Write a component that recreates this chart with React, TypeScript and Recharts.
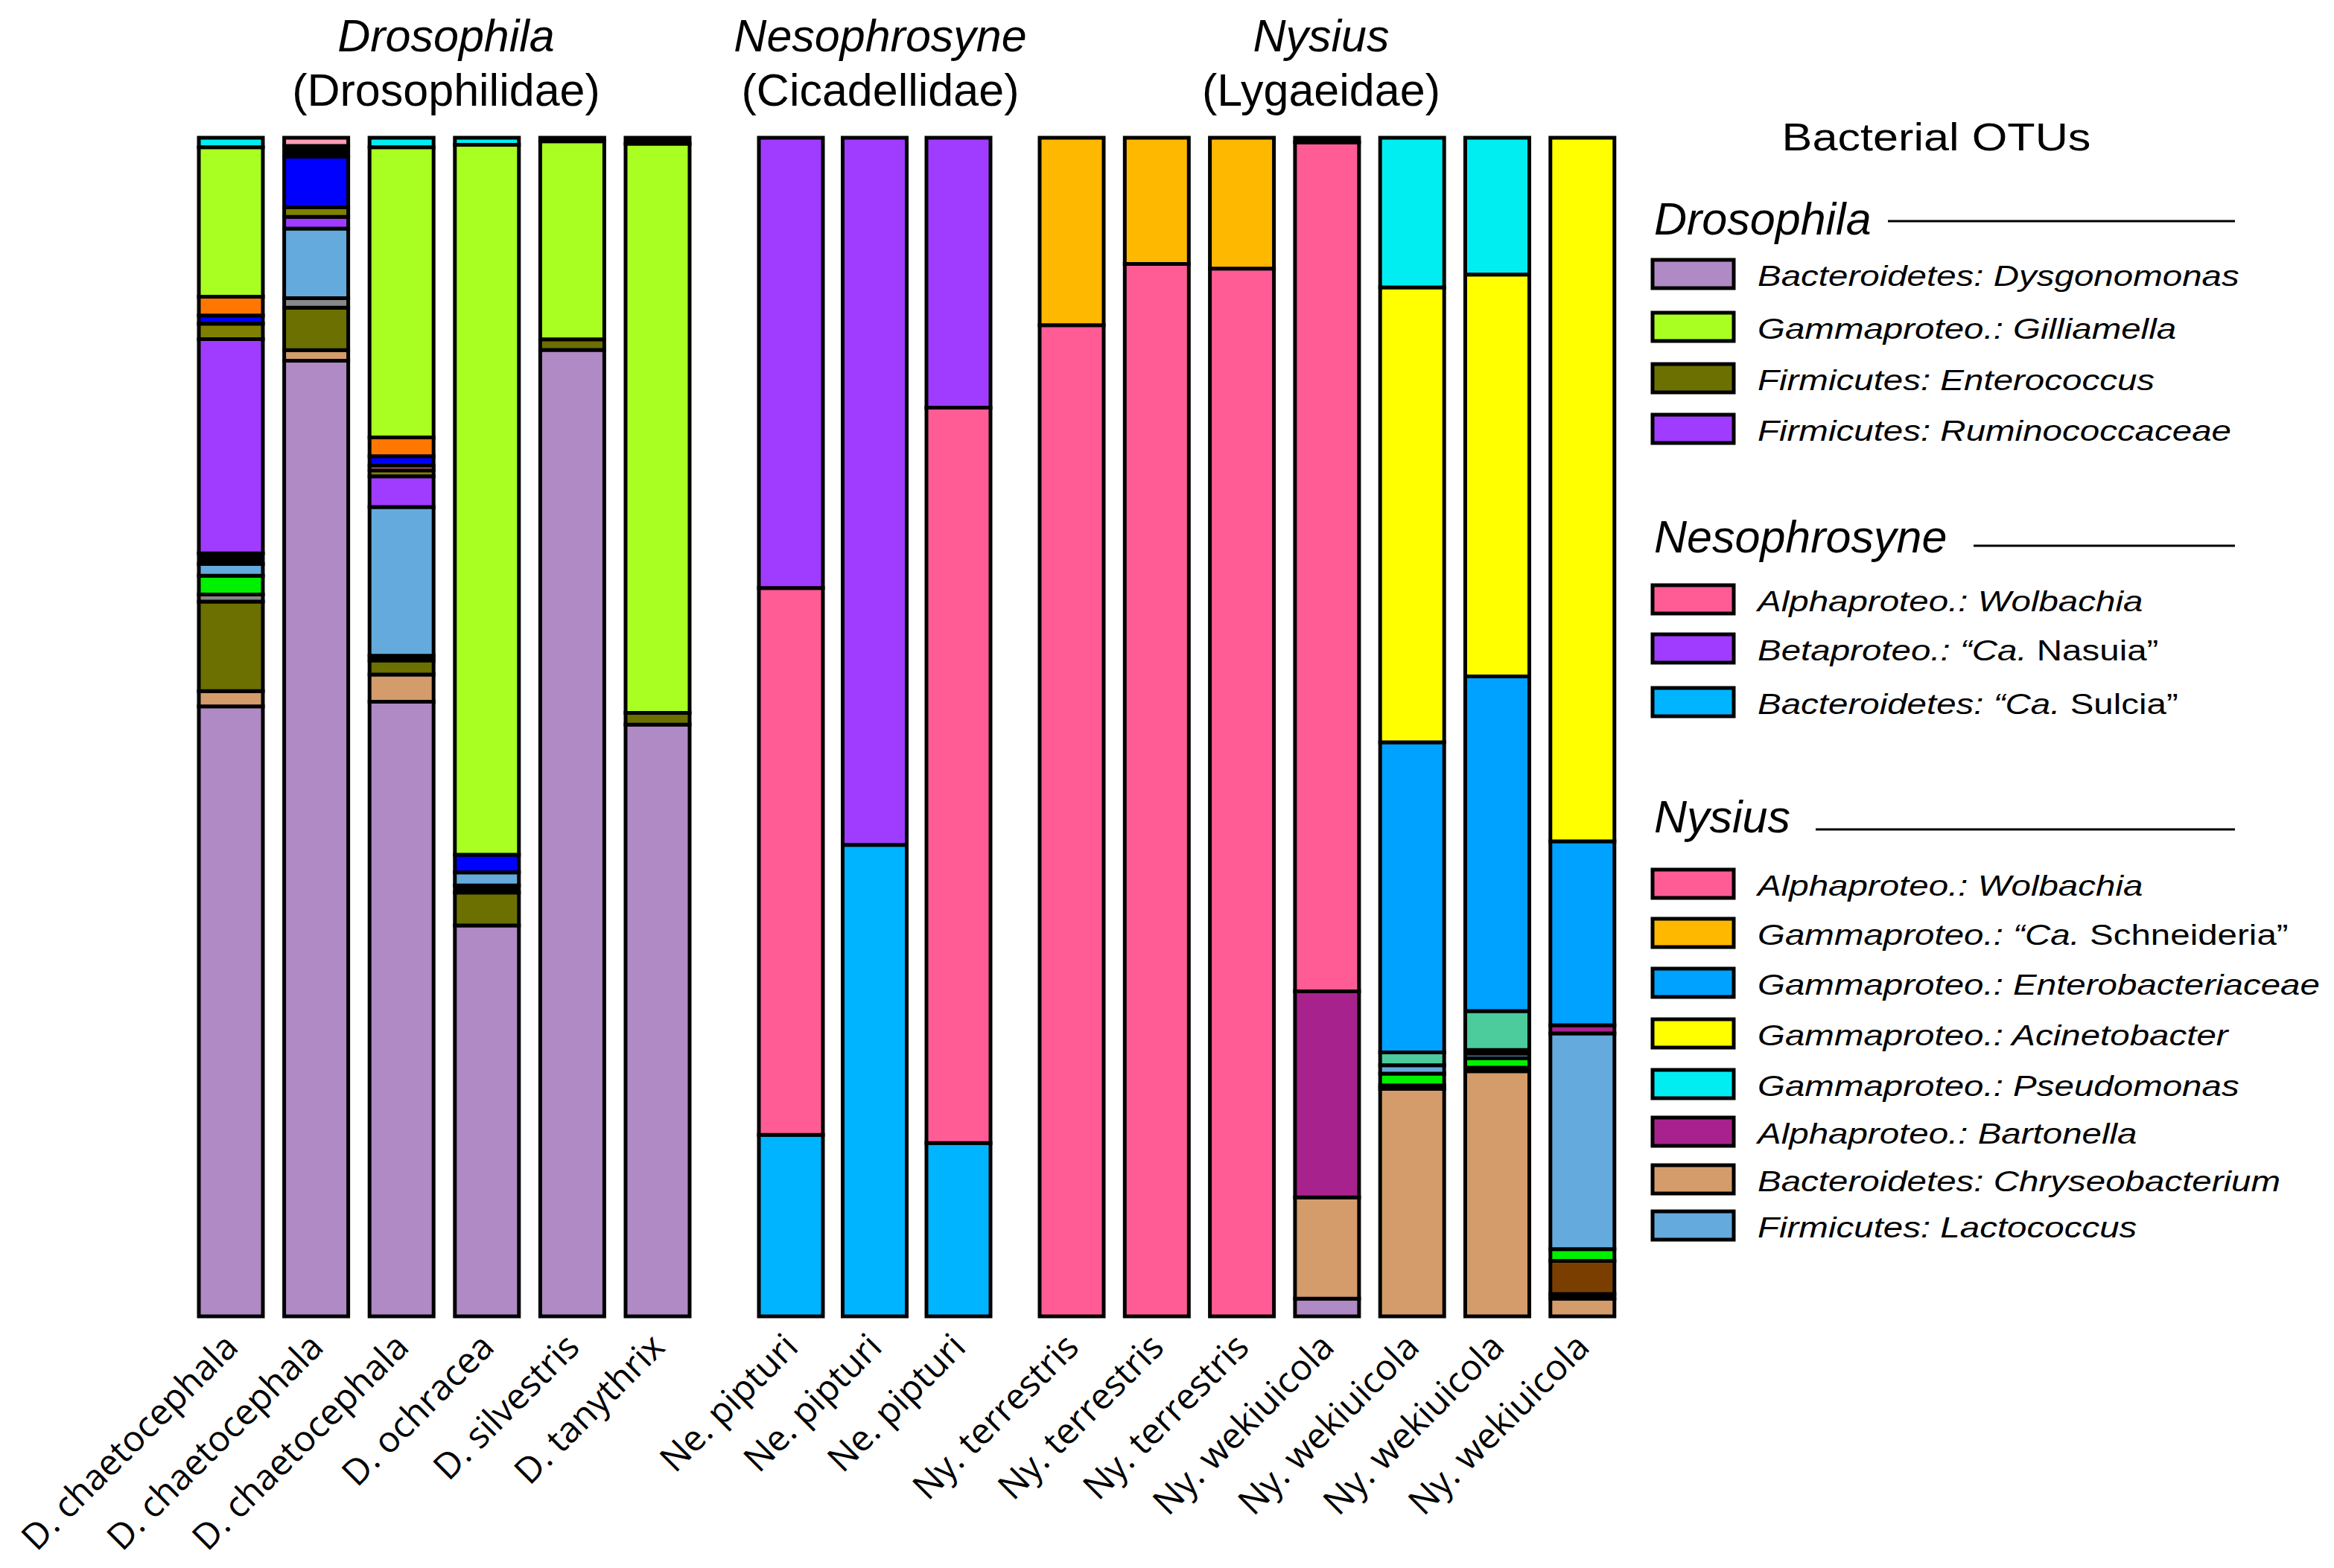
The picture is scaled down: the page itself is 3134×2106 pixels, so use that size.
// Stacked relative-abundance bars of bacterial OTUs in three Hawaiian insect genera

import React from 'react';
import { BarChart, Bar, XAxis, YAxis } from 'recharts';

// sample labels along the x axis (6 Drosophila, 3 Nesophrosyne, 7 Nysius)
const BAR_LABELS = [
  'D. chaetocephala', 'D. chaetocephala', 'D. chaetocephala', 'D. ochracea', 'D. silvestris', 'D. tanythrix',
  'Ne. pipturi', 'Ne. pipturi', 'Ne. pipturi',
  'Ny. terrestris', 'Ny. terrestris', 'Ny. terrestris',
  'Ny. wekiuicola', 'Ny. wekiuicola', 'Ny. wekiuicola', 'Ny. wekiuicola',
];

// relative abundance (%) per OTU, one value per sample, bottom of stack first
const dysgonomonas = [51.8, 81.0, 52.1, 33.2, 82.0, 50.2, 0, 0, 0, 0, 0, 0, 1.5, 0, 0, 0];
const chryseobacterium = [1.3, 0.9, 2.3, 0, 0, 0, 0, 0, 0, 0, 0, 0, 8.6, 19.3, 20.8, 1.5];
const otherDarkA = [0, 0, 0, 0, 0, 0, 0, 0, 0, 0, 0, 0, 0, 0.3, 0.3, 0.4];
const otherBrown = [0, 0, 0, 0, 0, 0, 0, 0, 0, 0, 0, 0, 0, 0, 0, 2.8];
const enterococcus = [7.6, 3.6, 1.2, 2.8, 0.9, 1.0, 0, 0, 0, 0, 0, 0, 0, 0, 0, 0];
const otherDarkB = [0, 0, 0.4, 0.6, 0, 0, 0, 0, 0, 0, 0, 0, 0, 0, 0, 0];
const otherGray = [0.6, 0.8, 0, 0, 0, 0, 0, 0, 0, 0, 0, 0, 0, 0, 0, 0];
const otherGreen = [1.6, 0, 0, 0, 0, 0, 0, 0, 0, 0, 0, 0, 0, 1.0, 0.8, 1.0];
const lactococcus = [1.0, 5.9, 12.6, 1.1, 0, 0, 0, 0, 0, 0, 0, 0, 0, 0.7, 0.4, 18.3];
const otherDarkC = [0.9, 0, 0, 0, 0, 0, 0, 0, 0, 0, 0, 0, 0, 0, 0, 0];
const bartonella = [0, 0, 0, 0, 0, 0, 0, 0, 0, 0, 0, 0, 17.5, 0, 0.3, 0.7];
const otherSeafoam = [0, 0, 0, 0, 0, 0, 0, 0, 0, 0, 0, 0, 0, 1.1, 3.3, 0];
const sulcia = [0, 0, 0, 0, 0, 0, 15.4, 40.0, 14.7, 0, 0, 0, 0, 0, 0, 0];
const wolbachia = [0, 0, 0, 0, 0, 0, 46.4, 0, 62.4, 84.1, 89.3, 88.9, 72.1, 0, 0, 0];
const ruminococcaceae = [18.2, 1.0, 2.6, 0, 0, 0, 0, 0, 0, 0, 0, 0, 0, 0, 0, 0];
const nasuia = [0, 0, 0, 0, 0, 0, 38.2, 60.0, 22.9, 0, 0, 0, 0, 0, 0, 0];
const otherOlive = [1.3, 0.8, 0.5, 0, 0, 0, 0, 0, 0, 0, 0, 0, 0, 0, 0, 0];
const otherPinkLow = [0, 0, 0.4, 0, 0, 0, 0, 0, 0, 0, 0, 0, 0, 0, 0, 0];
const otherBlue = [0.7, 4.3, 0.8, 1.5, 0, 0, 0, 0, 0, 0, 0, 0, 0, 0, 0, 0];
const otherOrange = [1.6, 0, 1.6, 0, 0, 0, 0, 0, 0, 0, 0, 0, 0, 0, 0, 0];
const gilliamella = [12.7, 0, 24.6, 60.3, 16.8, 48.3, 0, 0, 0, 0, 0, 0, 0, 0, 0, 0];
const schneideria = [0, 0, 0, 0, 0, 0, 0, 0, 0, 15.9, 10.7, 11.1, 0, 0, 0, 0];
const enterobacteriaceae = [0, 0, 0, 0, 0, 0, 0, 0, 0, 0, 0, 0, 0, 26.3, 28.4, 15.6];
const acinetobacter = [0, 0, 0, 0, 0, 0, 0, 0, 0, 0, 0, 0, 0, 38.6, 34.1, 59.7];
const pseudomonas = [0.8, 0, 0.8, 0.6, 0, 0, 0, 0, 0, 0, 0, 0, 0, 12.7, 11.6, 0];
const otherDarkD = [0, 0.9, 0, 0, 0.3, 0.5, 0, 0, 0, 0, 0, 0, 0.4, 0, 0, 0];
const otherPinkTop = [0, 0.7, 0, 0, 0, 0, 0, 0, 0, 0, 0, 0, 0, 0, 0, 0];

// stacking order and fill colours
const SERIES = [
  { key: 'dysgonomonas', values: dysgonomonas, color: '#AF8AC4' },
  { key: 'chryseobacterium', values: chryseobacterium, color: '#D49C6A' },
  { key: 'otherDarkA', values: otherDarkA, color: '#000000' },
  { key: 'otherBrown', values: otherBrown, color: '#7A3F00' },
  { key: 'enterococcus', values: enterococcus, color: '#6B7000' },
  { key: 'otherDarkB', values: otherDarkB, color: '#000000' },
  { key: 'otherGray', values: otherGray, color: '#888888' },
  { key: 'otherGreen', values: otherGreen, color: '#00F000' },
  { key: 'lactococcus', values: lactococcus, color: '#64AADC' },
  { key: 'otherDarkC', values: otherDarkC, color: '#000000' },
  { key: 'bartonella', values: bartonella, color: '#A8228E' },
  { key: 'otherSeafoam', values: otherSeafoam, color: '#4CCB9D' },
  { key: 'sulcia', values: sulcia, color: '#00B4FF' },
  { key: 'wolbachia', values: wolbachia, color: '#FF5C96' },
  { key: 'ruminococcaceae', values: ruminococcaceae, color: '#A03CFF' },
  { key: 'nasuia', values: nasuia, color: '#A03CFF' },
  { key: 'otherOlive', values: otherOlive, color: '#808000' },
  { key: 'otherPinkLow', values: otherPinkLow, color: '#E07C8C' },
  { key: 'otherBlue', values: otherBlue, color: '#0000FF' },
  { key: 'otherOrange', values: otherOrange, color: '#FF7700' },
  { key: 'gilliamella', values: gilliamella, color: '#AAFF22' },
  { key: 'schneideria', values: schneideria, color: '#FFB800' },
  { key: 'enterobacteriaceae', values: enterobacteriaceae, color: '#00A2FF' },
  { key: 'acinetobacter', values: acinetobacter, color: '#FFFF00' },
  { key: 'pseudomonas', values: pseudomonas, color: '#00EEF2' },
  { key: 'otherDarkD', values: otherDarkD, color: '#000000' },
  { key: 'otherPinkTop', values: otherPinkTop, color: '#FF9EB5' },
];

const COLOR: Record<string, string> = {};
SERIES.forEach(s => { COLOR[s.key] = s.color; });

// legend sections: [series key, italic text, upright text]
const DROSOPHILA_OTUS = [
  ['dysgonomonas', 'Bacteroidetes: Dysgonomonas', ''],
  ['gilliamella', 'Gammaproteo.: Gilliamella', ''],
  ['enterococcus', 'Firmicutes: Enterococcus', ''],
  ['ruminococcaceae', 'Firmicutes: Ruminococcaceae', ''],
];
const NESOPHROSYNE_OTUS = [
  ['wolbachia', 'Alphaproteo.: Wolbachia', ''],
  ['nasuia', 'Betaproteo.: \u201CCa. ', 'Nasuia\u201D'],
  ['sulcia', 'Bacteroidetes: \u201CCa. ', 'Sulcia\u201D'],
];
const NYSIUS_OTUS = [
  ['wolbachia', 'Alphaproteo.: Wolbachia', ''],
  ['schneideria', 'Gammaproteo.: \u201CCa. ', 'Schneideria\u201D'],
  ['enterobacteriaceae', 'Gammaproteo.: Enterobacteriaceae', ''],
  ['acinetobacter', 'Gammaproteo.: Acinetobacter', ''],
  ['pseudomonas', 'Gammaproteo.: Pseudomonas', ''],
  ['bartonella', 'Alphaproteo.: Bartonella', ''],
  ['chryseobacterium', 'Bacteroidetes: Chryseobacterium', ''],
  ['lactococcus', 'Firmicutes: Lactococcus', ''],
];

const ROWS = BAR_LABELS.map((label, i) => {
  const row: Record<string, any> = { id: String(i), label };
  SERIES.forEach(s => { row[s.key] = s.values[i]; });
  return row;
});

const PLOT_TOP = 185;
const PLOT_HEIGHT = 1583;
const AXIS_HEIGHT = 336;
const LABEL_ROOM = 250;
const BAR_W = 86;
const SANS = "'Liberation Sans', Arial, sans-serif";

const SpeciesTick = (props: any) => {
  const { x, y, payload } = props;
  return (
    <g transform={`translate(${x + 12},${y + 44})`}>
      <text textAnchor="end" transform="rotate(-45)" fontFamily="'Open Sans', sans-serif" fontSize={48} fill="#000">
        {BAR_LABELS[Number(payload.value)]}
      </text>
    </g>
  );
};

const GroupChart = ({ rows, plotLeft, band }: { rows: any[]; plotLeft: number; band: number }) => {
  const width = LABEL_ROOM + rows.length * band + 40;
  return (
    <div style={{ position: 'absolute', left: plotLeft - LABEL_ROOM, top: PLOT_TOP - 10 }}>
      <BarChart
        width={width}
        height={10 + PLOT_HEIGHT + AXIS_HEIGHT}
        data={rows}
        stackOffset="expand"
        margin={{ top: 10, right: 40, left: LABEL_ROOM, bottom: 0 }}
      >
        <XAxis
          dataKey="id"
          axisLine={false}
          tickLine={false}
          tickSize={0}
          tickMargin={0}
          height={AXIS_HEIGHT}
          interval={0}
          tick={<SpeciesTick />}
        />
        <YAxis hide domain={[0, 1]} />
        {SERIES.map(s => (
          <Bar
            key={s.key}
            dataKey={s.key}
            stackId="otu"
            fill={s.color}
            stroke="#000"
            strokeWidth={5}
            barSize={BAR_W}
            isAnimationActive={false}
          />
        ))}
      </BarChart>
    </div>
  );
};

const LegendSection = ({ title, items, titleY, lineX, lineY, rowY }: any) => (
  <g>
    <text x={2221} y={titleY} fontFamily={SANS} fontSize={61} fontStyle="italic" fill="#000">{title}</text>
    <line x1={lineX} x2={3001} y1={lineY} y2={lineY} stroke="#000" strokeWidth={3} />
    {items.map((it: string[], i: number) => {
      const cy = rowY[i];
      return (
        <g key={it[0] + i}>
          <rect x={2219} y={cy - 19} width={109} height={38} fill={COLOR[it[0]]} stroke="#000" strokeWidth={5} />
          <text transform={`translate(2360,${cy + 16}) scale(1.25,1)`} fontFamily={SANS} fontSize={38} fill="#000">
            <tspan fontStyle="italic">{it[1]}</tspan>
            {it[2] ? <tspan fontStyle="normal">{it[2]}</tspan> : null}
          </text>
        </g>
      );
    })}
  </g>
);

const App: React.FC = () => {
  return (
    <div style={{ position: 'absolute', left: 0, top: 0, width: 3134, height: 2106, background: '#fff', overflow: 'hidden' }}>
      <style>{'.recharts-surface{overflow:visible}'}</style>
      <GroupChart rows={ROWS.slice(0, 6)} plotLeft={252.7} band={114.6} />
      <GroupChart rows={ROWS.slice(6, 9)} plotLeft={1005.8} band={112.5} />
      <GroupChart rows={ROWS.slice(9, 16)} plotLeft={1381.9} band={114.3} />

      <svg width={3134} height={2106} style={{ position: 'absolute', left: 0, top: 0, pointerEvents: 'none' }}>
        {/* genus titles */}
        <g fontFamily={SANS} fontSize={61} fill="#000" textAnchor="middle">
          <text x={599} y={69} fontStyle="italic">Drosophila</text>
          <text x={599} y={142}>(Drosophilidae)</text>
          <text x={1182} y={69} fontStyle="italic">Nesophrosyne</text>
          <text x={1182} y={142}>(Cicadellidae)</text>
          <text x={1774} y={69} fontStyle="italic">Nysius</text>
          <text x={1774} y={142}>(Lygaeidae)</text>
        </g>

        {/* legend */}
        <text transform="translate(2600,202) scale(1.2,1)" textAnchor="middle" fontFamily={SANS} fontSize={51} fill="#000">
          Bacterial OTUs
        </text>
        <LegendSection title="Drosophila" items={DROSOPHILA_OTUS} titleY={315} lineX={2535} lineY={297} rowY={[368, 439, 508, 576]} />
        <LegendSection title="Nesophrosyne" items={NESOPHROSYNE_OTUS} titleY={742} lineX={2650} lineY={733} rowY={[805, 871, 943]} />
        <LegendSection
          title="Nysius"
          items={NYSIUS_OTUS}
          titleY={1118}
          lineX={2438}
          lineY={1114}
          rowY={[1187, 1253, 1320, 1388, 1456, 1520, 1584, 1646]}
        />
      </svg>
    </div>
  );
};

export default App;
